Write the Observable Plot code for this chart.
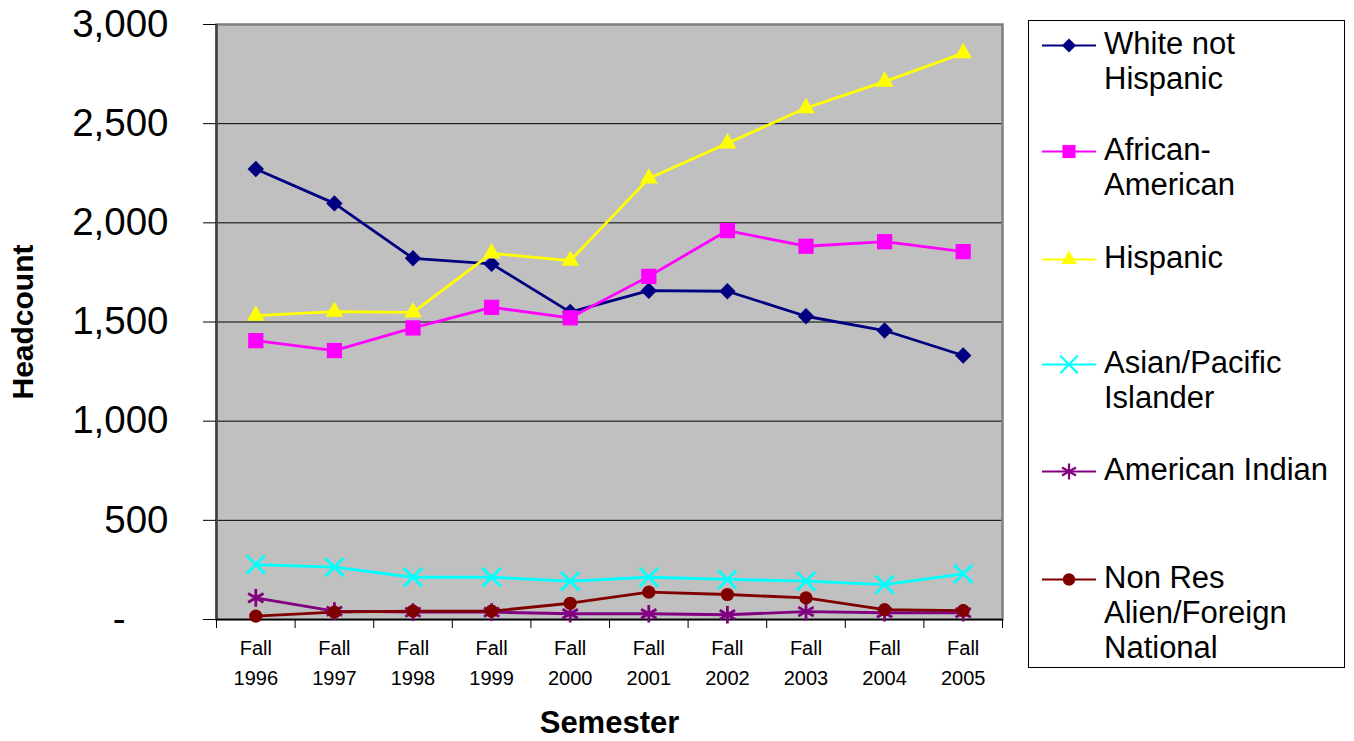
<!DOCTYPE html>
<html>
<head>
<meta charset="utf-8">
<script src="https://cdn.jsdelivr.net/npm/d3@7"></script>
<script src="https://cdn.jsdelivr.net/npm/@observablehq/plot@0.6"></script>
<style>
  html, body { margin: 0; padding: 0; background: #fff; }
  body { font-family: "Liberation Sans", Arial, sans-serif; color: #000; }
  #wrap { position: relative; width: 1354px; height: 741px; overflow: hidden; }
  #legend { position: absolute; left: 1028px; top: 20px; width: 317px; height: 648px;
            border: 1px solid #000; box-sizing: border-box; background: #fff; }
  .entry { position: absolute; left: 0; width: 316px; }
  .entry svg { position: absolute; left: 12px; }
  .entry .lbl { position: absolute; left: 75px; font-size: 31px; line-height: 35px; white-space: pre; }
</style>
</head>
<body>
<div id="wrap"></div>
<script>
// ---- data ----
const semesters = ["Fall 1996", "Fall 1997", "Fall 1998", "Fall 1999", "Fall 2000",
                   "Fall 2001", "Fall 2002", "Fall 2003", "Fall 2004", "Fall 2005"];
const seriesNames = ["White not Hispanic", "African-American", "Hispanic",
                     "Asian/Pacific Islander", "American Indian", "Non Res Alien/Foreign National"];
const legendLabels = ["White not\nHispanic", "African-\nAmerican", "Hispanic",
                      "Asian/Pacific\nIslander", "American Indian", "Non Res\nAlien/Foreign\nNational"];
const whiteNotHispanic   = [2271, 2098, 1821, 1793, 1550, 1658, 1655, 1529, 1457, 1331];
const africanAmerican    = [1406, 1356, 1470, 1574, 1521, 1730, 1961, 1882, 1905, 1855];
const hispanic           = [1532, 1552, 1549, 1846, 1809, 2224, 2401, 2579, 2712, 2856];
const asianPacific       = [277, 264, 213, 213, 193, 213, 202, 193, 176, 230];
const americanIndian     = [109, 42, 37, 37, 29, 29, 24, 40, 34, 34];
const nonResAlien        = [17, 37, 42, 42, 82, 138, 126, 109, 50, 45];
const yTicks = [500, 1000, 1500, 2000, 2500, 3000];

const seriesValues = [whiteNotHispanic, africanAmerican, hispanic, asianPacific, americanIndian, nonResAlien];
const colors  = ["#000080", "#FF00FF", "#FFFF00", "#00FFFF", "#800080", "#800000"];
const symbols = ["diamond2", "square", "triangle", "times", "asterisk", "circle"];
const radii   = [7.4, 8.6, 6.6, 8.4, 8.4, 6.6];
const filled  = [true, true, true, false, false, true];

const data = seriesNames.flatMap((name, k) =>
  semesters.map((s, i) => ({series: name, k, i, semester: s, value: seriesValues[k][i]})));

const marks = [
  Plot.frame({fill: "#C0C0C0", stroke: null}),
  Plot.gridY({ticks: yTicks.slice(0, -1), stroke: "#000", strokeOpacity: 1, strokeWidth: 1}),
  Plot.frame({stroke: "#808080", strokeWidth: 2.5}),
  Plot.ruleX([-0.5], {stroke: "#404040", strokeWidth: 2.5}),
  Plot.ruleY([0], {stroke: "#000", strokeWidth: 1.5}),
];
seriesNames.forEach((name, k) => {
  const d = data.filter(r => r.k === k);
  marks.push(Plot.line(d, {x: "i", y: "value", stroke: colors[k], strokeWidth: 2.8}));
  marks.push(Plot.dot(d, filled[k]
    ? {x: "i", y: "value", symbol: () => symbols[k], r: radii[k], fill: colors[k], stroke: "none"}
    : {x: "i", y: "value", symbol: () => symbols[k], r: radii[k], stroke: colors[k], strokeWidth: 2.8, fill: "none"}));
});
marks.push(
  Plot.axisY({ticks: yTicks, tickFormat: d3.format(","), fontSize: 38.5, tickSize: 13, tickPadding: 35, label: null}),
  Plot.axisY({ticks: [0], tickFormat: () => "-", fontSize: 38.5, tickSize: 13, tickPadding: 78, label: null}),
  Plot.axisX({ticks: d3.range(-0.5, 10, 1), tickSize: 9, tickFormat: () => "", label: null}),
  Plot.axisX({ticks: d3.range(0, 10), tickSize: 0, tickPadding: 14, fontSize: 20, lineHeight: 1.5,
              tickFormat: i => semesters[i].replace(" ", "\n"), label: null}),
  Plot.text(["Headcount"], {frameAnchor: "left", dx: -193, rotate: -90, textAnchor: "middle", lineAnchor: "middle", fontSize: 30, fontWeight: "bold"}),
  Plot.text(["Semester"], {frameAnchor: "bottom", dy: 104, textAnchor: "middle", lineAnchor: "middle", fontSize: 31, fontWeight: "bold"})
);

const chart = Plot.plot({
  width: 1354, height: 741,
  marginLeft: 216, marginRight: 352, marginTop: 24, marginBottom: 122,
  x: {type: "linear", domain: [-0.5, 9.5]},
  y: {domain: [0, 3000]},
  style: {fontFamily: "'Liberation Sans', Arial, sans-serif", color: "#000", background: "#fff", overflow: "visible"},
  marks
});
const wrap = document.getElementById("wrap");
wrap.appendChild(chart);

// ---- legend ----
const legend = document.createElement("div");
legend.id = "legend";
wrap.appendChild(legend);
const entryCenters = [44, 150, 258, 363, 470, 578]; // first-line centres in page px
const legendSymbols = [d3.symbolDiamond2, d3.symbolSquare, d3.symbolTriangle, d3.symbolTimes, d3.symbolAsterisk, d3.symbolCircle];
const legendSizes = [6.4, 7.4, 5.8, 8.0, 7.6, 6.2];
seriesNames.forEach((name, k) => {
  const e = document.createElement("div");
  e.className = "entry";
  e.style.top = (entryCenters[k] - 20 - 19) + "px";
  const size = Math.PI * legendSizes[k] * legendSizes[k];
  const path = d3.symbol(legendSymbols[k], size)();
  const mk = filled[k]
    ? `<path d="${path}" transform="translate(28,17.5)" fill="${colors[k]}"/>`
    : `<path d="${path}" transform="translate(28,17.5)" fill="none" stroke="${colors[k]}" stroke-width="2.2"/>`;
  e.innerHTML = `<svg width="56" height="35" style="top:1.5px"><line x1="1" x2="55" y1="17.5" y2="17.5" stroke="${colors[k]}" stroke-width="2"/>${mk}</svg>` +
                `<div class="lbl">${legendLabels[k]}</div>`;
  legend.appendChild(e);
});
</script>
</body>
</html>
